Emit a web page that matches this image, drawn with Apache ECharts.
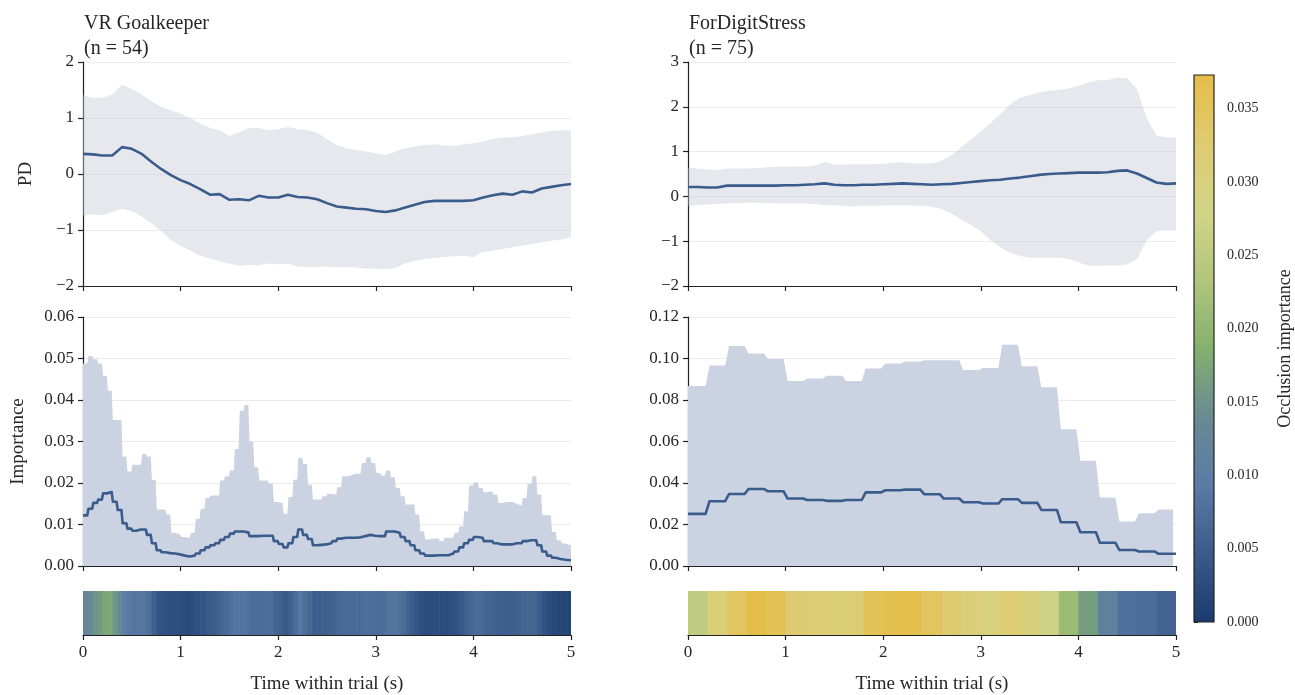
<!DOCTYPE html>
<html>
<head>
<meta charset="utf-8">
<script src="https://cdn.jsdelivr.net/npm/echarts@6/dist/echarts.min.js"></script>
<style>
  html, body { margin: 0; padding: 0; background: #ffffff; }
  #chart { width: 1295px; height: 695px; }
</style>
</head>
<body>
<div id="chart"></div>
<script>
// ---------- data ----------
// Pupil diameter (PD), sampled every 0.1 s from 0 to 5 s
const pdTimes = [];
for (let i = 0; i <= 50; i++) pdTimes.push(+(i * 0.1).toFixed(1));

const vrPdMean = [0.36, 0.35, 0.33, 0.33, 0.48, 0.45, 0.36, 0.22, 0.09, -0.02,
  -0.11, -0.18, -0.27, -0.37, -0.36, -0.46, -0.45, -0.47, -0.39, -0.42,
  -0.42, -0.37, -0.41, -0.42, -0.45, -0.52, -0.58, -0.60, -0.62, -0.63,
  -0.66, -0.68, -0.65, -0.60, -0.55, -0.50, -0.48, -0.48, -0.48, -0.48,
  -0.47, -0.42, -0.38, -0.35, -0.37, -0.31, -0.33, -0.26, -0.23, -0.20, -0.18];
const vrPdUpper = [1.41, 1.36, 1.36, 1.42, 1.60, 1.52, 1.42, 1.30, 1.20, 1.14,
  1.08, 1.00, 0.90, 0.82, 0.78, 0.68, 0.74, 0.82, 0.82, 0.78,
  0.80, 0.84, 0.80, 0.78, 0.74, 0.62, 0.52, 0.46, 0.43, 0.40,
  0.37, 0.34, 0.40, 0.46, 0.49, 0.52, 0.53, 0.51, 0.50, 0.53,
  0.55, 0.58, 0.63, 0.65, 0.66, 0.68, 0.71, 0.74, 0.77, 0.78, 0.78];
const vrPdLower = [-0.74, -0.72, -0.74, -0.68, -0.62, -0.66, -0.76, -0.88, -1.02, -1.18,
  -1.28, -1.37, -1.46, -1.51, -1.56, -1.60, -1.64, -1.62, -1.63, -1.60,
  -1.61, -1.60, -1.65, -1.66, -1.66, -1.65, -1.67, -1.66, -1.67, -1.69,
  -1.69, -1.70, -1.68, -1.60, -1.55, -1.52, -1.50, -1.48, -1.47, -1.46,
  -1.48, -1.39, -1.37, -1.34, -1.31, -1.28, -1.25, -1.22, -1.19, -1.17, -1.13];

const fdsPdMean = [0.21, 0.21, 0.20, 0.20, 0.24, 0.24, 0.24, 0.24, 0.24, 0.24,
  0.25, 0.25, 0.26, 0.27, 0.29, 0.26, 0.25, 0.25, 0.26, 0.26,
  0.27, 0.28, 0.29, 0.28, 0.27, 0.26, 0.27, 0.28, 0.30, 0.32,
  0.34, 0.36, 0.37, 0.40, 0.42, 0.45, 0.48, 0.50, 0.51, 0.52,
  0.53, 0.53, 0.53, 0.54, 0.57, 0.58, 0.51, 0.41, 0.31, 0.28, 0.29];
const fdsPdUpper = [0.64, 0.62, 0.60, 0.59, 0.62, 0.62, 0.62, 0.63, 0.65, 0.66,
  0.66, 0.66, 0.67, 0.69, 0.77, 0.71, 0.71, 0.72, 0.72, 0.72,
  0.73, 0.75, 0.76, 0.74, 0.74, 0.74, 0.80, 0.92, 1.10, 1.27,
  1.45, 1.64, 1.84, 2.05, 2.20, 2.26, 2.32, 2.36, 2.38, 2.41,
  2.47, 2.54, 2.59, 2.60, 2.65, 2.64, 2.40, 1.75, 1.36, 1.32, 1.32];
const fdsPdLower = [-0.21, -0.20, -0.18, -0.17, -0.16, -0.15, -0.14, -0.14, -0.15, -0.16,
  -0.16, -0.16, -0.16, -0.17, -0.20, -0.19, -0.22, -0.22, -0.21, -0.21,
  -0.21, -0.20, -0.20, -0.21, -0.21, -0.23, -0.28, -0.38, -0.52, -0.64,
  -0.78, -0.98, -1.14, -1.26, -1.33, -1.37, -1.37, -1.37, -1.37, -1.40,
  -1.47, -1.55, -1.55, -1.55, -1.54, -1.52, -1.40, -0.98, -0.78, -0.76, -0.76];

// Occlusion importance per time window
// VR Goalkeeper: 100 windows of 0.05 s
const vrBinWidth = 0.05;
const vrImpMean = [0.0122, 0.0138, 0.0152, 0.0160, 0.0175, 0.0178, 0.0155, 0.0135, 0.0103, 0.0090,
  0.0085, 0.0088, 0.0088, 0.0075, 0.0055, 0.0038, 0.0033, 0.0031, 0.0030, 0.0028,
  0.0025, 0.0023, 0.0025, 0.0030, 0.0038, 0.0045, 0.0050, 0.0055, 0.0063, 0.0070,
  0.0078, 0.0083, 0.0083, 0.0081, 0.0072, 0.0072, 0.0073, 0.0073, 0.0073, 0.0060,
  0.0053, 0.0045, 0.0055, 0.0070, 0.0088, 0.0075, 0.0065, 0.0050, 0.0051, 0.0052,
  0.0055, 0.0060, 0.0066, 0.0068, 0.0068, 0.0068, 0.0069, 0.0072, 0.0075, 0.0073,
  0.0072, 0.0072, 0.0083, 0.0083, 0.0080, 0.0070, 0.0060, 0.0050, 0.0038, 0.0030,
  0.0025, 0.0025, 0.0026, 0.0026, 0.0026, 0.0030, 0.0035, 0.0045, 0.0055, 0.0063,
  0.0070, 0.0068, 0.0060, 0.0060, 0.0055, 0.0052, 0.0052, 0.0052, 0.0055, 0.0055,
  0.0060, 0.0062, 0.0062, 0.0050, 0.0035, 0.0025, 0.0020, 0.0017, 0.0015, 0.0014];
const vrImpUpper = [0.0488, 0.0506, 0.0498, 0.0488, 0.0458, 0.0422, 0.0352, 0.0352, 0.0264, 0.0228,
  0.0244, 0.0244, 0.0270, 0.0264, 0.0208, 0.0136, 0.0136, 0.0124, 0.0080, 0.0076,
  0.0070, 0.0068, 0.0080, 0.0114, 0.0138, 0.0164, 0.0170, 0.0170, 0.0206, 0.0216,
  0.0230, 0.0282, 0.0374, 0.0388, 0.0300, 0.0238, 0.0206, 0.0206, 0.0198, 0.0154,
  0.0152, 0.0126, 0.0166, 0.0208, 0.0260, 0.0246, 0.0196, 0.0160, 0.0160, 0.0168,
  0.0174, 0.0172, 0.0190, 0.0216, 0.0218, 0.0222, 0.0222, 0.0248, 0.0262, 0.0248,
  0.0224, 0.0218, 0.0230, 0.0214, 0.0188, 0.0168, 0.0148, 0.0148, 0.0124, 0.0084,
  0.0064, 0.0066, 0.0066, 0.0060, 0.0068, 0.0068, 0.0080, 0.0096, 0.0132, 0.0194,
  0.0202, 0.0188, 0.0178, 0.0180, 0.0172, 0.0152, 0.0154, 0.0154, 0.0150, 0.0146,
  0.0164, 0.0198, 0.0216, 0.0172, 0.0122, 0.0122, 0.0082, 0.0062, 0.0054, 0.0050];

// ForDigitStress: 25 windows of 0.2 s
const fdsBinWidth = 0.2;
const fdsImpMean = [0.0251, 0.0312, 0.0347, 0.0371, 0.0360, 0.0325, 0.0318, 0.0314, 0.0318, 0.0355,
  0.0365, 0.0368, 0.0346, 0.0325, 0.0307, 0.0301, 0.0322, 0.0304, 0.0270, 0.0211,
  0.0163, 0.0112, 0.0077, 0.0070, 0.0059];
const fdsImpUpper = [0.0867, 0.0966, 0.1060, 0.1024, 0.0997, 0.0891, 0.0904, 0.0917, 0.0891, 0.0952,
  0.0976, 0.0986, 0.0992, 0.0992, 0.0944, 0.0954, 0.1066, 0.0963, 0.0862, 0.0659,
  0.0507, 0.0330, 0.0214, 0.0254, 0.0272];

// Axis ticks and labels
const timeTicks = [0, 1, 2, 3, 4, 5];
const panelTitles = ['VR Goalkeeper\n(n = 54)', 'ForDigitStress\n(n = 75)'];
const colorbarTicks = [0, 0.005, 0.010, 0.015, 0.020, 0.025, 0.030, 0.035];
const COLOR_MAX = 0.0373;

// ---------- styling ----------
const FONT = '"Liberation Serif", "DejaVu Serif", serif';
const INK = '#262626';
const AXIS = '#222222';
const LINE_BLUE = '#3a5c8c';
const PD_BAND = 'rgba(198, 200, 214, 0.42)';
const IMP_FILL = '#cbd3e2';
const GRID_LINE = '#ebebeb';
const CMAP = ['#1a3b6d', '#3a5a8a', '#5b7ba6', '#688a92', '#84b16e',
  '#b1c67c', '#d2d487', '#decb70', '#e5bd48'];

// ---------- helpers ----------
const zip = (ts, vs) => ts.map((t, i) => [t, vs[i]]);

// Piecewise-constant windows drawn as a staircase with short ramps
function staircase(vals, width, ramp, end) {
  const pts = [];
  vals.forEach((v, k) => {
    const a = k === 0 ? 0 : k * width + ramp / 2;
    const b = k === vals.length - 1 ? end : (k + 1) * width - ramp / 2;
    pts.push([a, v], [b, v]);
  });
  return pts;
}
function windows(vals, width) {
  return vals.map((v, k) => [k * width, (k + 1) * width, v]);
}
const minus = v => (v < 0 ? '\u2212' + Math.abs(v) : String(v));

const gridsLeft = [83, 688];
const gridW = 488;
const grids = [
  { left: gridsLeft[0], top: 62, width: gridW, height: 224 },
  { left: gridsLeft[1], top: 62, width: gridW, height: 224 },
  { left: gridsLeft[0], top: 317, width: gridW, height: 249 },
  { left: gridsLeft[1], top: 317, width: gridW, height: 249 },
  { left: gridsLeft[0], top: 591, width: gridW, height: 44 },
  { left: gridsLeft[1], top: 591, width: gridW, height: 44 },
  { left: 1194, top: 75, width: 27, height: 547 }
];

function timeAxis(gridIndex, withLabels) {
  return {
    type: 'value', gridIndex, min: timeTicks[0], max: timeTicks[timeTicks.length - 1], interval: 1,
    axisLine: { show: true, onZero: false, lineStyle: { color: AXIS, width: 1.2 } },
    axisTick: { show: true, length: 5, lineStyle: { color: AXIS, width: 1.2 } },
    axisLabel: { show: withLabels, fontFamily: FONT, fontSize: 17, color: INK, margin: 9 },
    splitLine: { show: false },
    name: withLabels ? 'Time within trial (s)' : '',
    nameLocation: 'middle', nameGap: 40,
    nameTextStyle: { fontFamily: FONT, fontSize: 19, color: INK }
  };
}
function valueAxis(gridIndex, min, max, interval, fmt, name, nameGap) {
  return {
    type: 'value', gridIndex, min, max, interval,
    axisLine: { show: true, lineStyle: { color: AXIS, width: 1.2 } },
    axisTick: { show: true, length: 5, lineStyle: { color: AXIS, width: 1.2 } },
    axisLabel: { fontFamily: FONT, fontSize: 17, color: INK, margin: 9, formatter: fmt },
    splitLine: { show: true, lineStyle: { color: GRID_LINE, width: 1 } },
    name: name || '', nameLocation: 'middle', nameGap: nameGap || 0, nameRotate: 90,
    nameTextStyle: { fontFamily: FONT, fontSize: 19, color: INK }
  };
}
function hiddenAxis(gridIndex, min, max) {
  return { type: 'value', gridIndex, min, max, show: false, splitLine: { show: false } };
}

// Shaded spread between a lower and an upper curve, drawn as one polygon
function bandSeries(ax, lower, upper) {
  const rows = pdTimes.map((t, i) => [t, lower[i], upper[i]]);
  return {
    type: 'custom', xAxisIndex: ax, yAxisIndex: ax, data: rows,
    encode: { x: 0, y: [1, 2] },
    renderItem: (params, api) => {
      if (params.dataIndex !== 0) return null;
      const top = rows.map(r => api.coord([r[0], r[2]]));
      const bottom = rows.map(r => api.coord([r[0], r[1]])).reverse();
      return {
        type: 'polygon',
        shape: { points: top.concat(bottom) },
        style: { fill: PD_BAND }
      };
    },
    clip: true, silent: true, z: 2
  };
}
function pdSeries(ax, lower, upper, mean) {
  return [
    bandSeries(ax, lower, upper),
    { type: 'line', xAxisIndex: ax, yAxisIndex: ax, data: zip(pdTimes, mean), symbol: 'none',
      lineStyle: { color: LINE_BLUE, width: 2.6 }, z: 3 }
  ];
}
function impSeries(ax, upper, mean, width, ramp, bandEnd) {
  return [
    { type: 'line', xAxisIndex: ax, yAxisIndex: ax, data: staircase(upper, width, ramp, bandEnd),
      symbol: 'none', lineStyle: { width: 0 }, areaStyle: { color: IMP_FILL, opacity: 1 }, z: 2 },
    { type: 'line', xAxisIndex: ax, yAxisIndex: ax, data: staircase(mean, width, ramp, 5),
      symbol: 'none', lineStyle: { color: LINE_BLUE, width: 2.6, join: 'round' }, z: 3 }
  ];
}
function stripSeries(ax, mean, width) {
  return {
    type: 'custom', xAxisIndex: ax, yAxisIndex: ax, data: windows(mean, width),
    encode: { x: [0, 1], y: 2 },
    renderItem: (params, api) => {
      const p0 = api.coord([api.value(0), 0]);
      const p1 = api.coord([api.value(1), 1]);
      return {
        type: 'rect',
        shape: { x: p0[0], y: p1[1], width: p1[0] - p0[0] + 0.6, height: p0[1] - p1[1] },
        style: { fill: api.visual('color') }
      };
    },
    clip: true, z: 1
  };
}

const series = [
  ...pdSeries(0, vrPdLower, vrPdUpper, vrPdMean),
  ...pdSeries(1, fdsPdLower, fdsPdUpper, fdsPdMean),
  ...impSeries(2, vrImpUpper, vrImpMean, vrBinWidth, 0.012, 5),
  ...impSeries(3, fdsImpUpper, fdsImpMean, fdsBinWidth, 0.04, 4.97),
  stripSeries(4, vrImpMean, vrBinWidth),
  stripSeries(5, fdsImpMean, fdsBinWidth),
  {
    // colour bar body
    type: 'custom', xAxisIndex: 6, yAxisIndex: 6, data: [[0, 1, 0, COLOR_MAX]],
    renderItem: (params, api) => {
      const p0 = api.coord([0, 0]);
      const p1 = api.coord([1, COLOR_MAX]);
      const stops = CMAP.map((c, i) => ({ offset: i / (CMAP.length - 1), color: c }));
      return {
        type: 'rect',
        shape: { x: p0[0], y: p1[1], width: p1[0] - p0[0], height: p0[1] - p1[1] },
        style: { fill: new echarts.graphic.LinearGradient(0, 1, 0, 0, stops), stroke: AXIS, lineWidth: 1.2 }
      };
    },
    silent: true
  }
];
const stripStart = series.length - 3;

const option = {
  backgroundColor: '#ffffff',
  animation: false,
  title: panelTitles.map((t, i) => ({
    text: t, left: gridsLeft[i] - 4, top: 6,
    textStyle: { fontFamily: FONT, fontSize: 20, fontWeight: 'normal', color: INK, lineHeight: 25 }
  })),
  grid: grids.map(g => Object.assign({ containLabel: false }, g)),
  xAxis: [
    timeAxis(0, false), timeAxis(1, false), timeAxis(2, false), timeAxis(3, false),
    timeAxis(4, true), timeAxis(5, true), hiddenAxis(6, 0, 1)
  ],
  yAxis: [
    valueAxis(0, -2, 2, 1, minus, 'PD', 47),
    valueAxis(1, -2, 3, 1, minus),
    valueAxis(2, 0, 0.06, 0.01, v => v.toFixed(2), 'Importance', 55),
    valueAxis(3, 0, 0.12, 0.02, v => v.toFixed(2)),
    hiddenAxis(4, 0, 1),
    hiddenAxis(5, 0, 1),
    {
      type: 'value', gridIndex: 6, position: 'right', min: 0, max: COLOR_MAX, interval: 0.005,
      axisLine: { show: false },
      axisTick: { show: true, length: 4, lineStyle: { color: AXIS, width: 1 } },
      axisLabel: { fontFamily: FONT, fontSize: 14, color: INK, margin: 13,
        formatter: v => (colorbarTicks.some(t => Math.abs(t - v) < 1e-9) ? v.toFixed(3) : '') },
      splitLine: { show: false },
      name: 'Occlusion importance', nameLocation: 'middle', nameGap: 62, nameRotate: 90,
      nameTextStyle: { fontFamily: FONT, fontSize: 18, color: INK }
    }
  ],
  visualMap: {
    type: 'continuous', show: false, min: 0, max: COLOR_MAX, dimension: 2,
    seriesIndex: [stripStart, stripStart + 1],
    inRange: { color: CMAP }
  },
  series
};

const chart = echarts.init(document.getElementById('chart'), null, { renderer: 'canvas' });
chart.setOption(option);
</script>
</body>
</html>
